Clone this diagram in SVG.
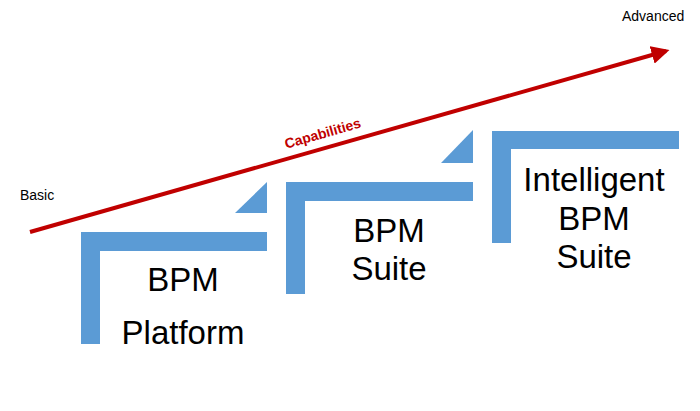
<svg xmlns="http://www.w3.org/2000/svg" width="700" height="411" viewBox="0 0 700 411">
<defs>
<style>
.step{fill:#5B9BD5}
.big{font-family:"Liberation Sans",Arial,sans-serif;font-size:33px;fill:#000;text-anchor:middle}
.small{font-family:"Liberation Sans",Arial,sans-serif;font-size:14px;fill:#000}
</style>
<marker id="ah" viewBox="0 0 10 10" refX="8" refY="5" markerWidth="4.5" markerHeight="4.5" orient="auto" markerUnits="strokeWidth">
<path d="M0,0 L10,5 L0,10 Z" fill="#C00000"/>
</marker>
</defs>
<rect width="700" height="411" fill="#fff"/>
<g id="connectors">
<line x1="30" y1="232" x2="666" y2="51" stroke="#C00000" stroke-width="4" marker-end="url(#ah)"/>
<text x="324" y="138" transform="rotate(-15.9 324 138)" font-family="Liberation Sans,Arial,sans-serif" font-size="14" font-weight="bold" fill="#C00000" text-anchor="middle">Capabilities</text>
</g>
<g id="basic"><text class="small" x="20" y="200">Basic</text></g>
<g id="advanced"><text class="small" x="622" y="21">Advanced</text></g>
<g id="step1">
<path class="step" d="M81,232 H267 V251 H100 V344 H81 Z"/>
<path class="step" d="M235,213 H267 V182 Z"/>
<text class="big" x="183" y="291">BPM</text>
<text class="big" x="183" y="344">Platform</text>
</g>
<g id="step2">
<path class="step" d="M286,182 H473 V201 H305 V294 H286 Z"/>
<path class="step" d="M441,163 H473 V130 Z"/>
<text class="big" x="389" y="242">BPM</text>
<text class="big" x="389" y="280">Suite</text>
</g>
<g id="step3">
<path class="step" d="M492,131 H679 V149 H511 V243 H492 Z"/>
<text class="big" x="594" y="191">Intelligent</text>
<text class="big" x="594" y="230">BPM</text>
<text class="big" x="594" y="268">Suite</text>
</g>
</svg>
